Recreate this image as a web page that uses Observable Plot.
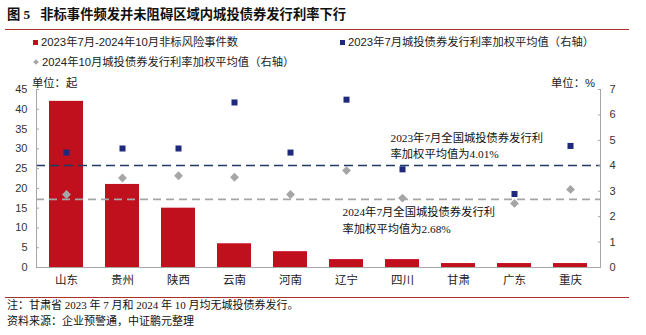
<!DOCTYPE html>
<html><head><meta charset="utf-8">
<script src="https://cdn.jsdelivr.net/npm/d3@7"></script>
<script src="https://cdn.jsdelivr.net/npm/@observablehq/plot@0.6"></script>
<style>
body{margin:0;background:#fff;}
#wrap{position:relative;width:646px;height:335px;overflow:hidden;font-family:"Liberation Sans","Noto Sans CJK SC",sans-serif;color:#222;}
.abs{position:absolute;white-space:nowrap;}
#title{left:7px;top:6px;font-size:13.3px;line-height:18px;font-weight:bold;font-family:"Liberation Serif","Noto Sans CJK SC",serif;color:#111;}
.redline{position:absolute;left:5px;width:624px;height:0;border-top:1.2px solid #a8322d;}
.leg{font-size:11.3px;line-height:14px;color:#222;}
.mk{display:inline-block;width:5px;height:5px;margin-right:3px;vertical-align:1px;}
.dia{display:inline-block;width:4px;height:4px;background:#a6a6a6;transform:rotate(45deg);margin:0 4px 0 1px;vertical-align:2px;}
.unit{font-size:11.3px;line-height:14px;color:#222;}
.foot{font-size:11px;line-height:14px;font-family:"Liberation Serif","Noto Sans CJK SC",serif;color:#111;}
#chart{position:absolute;left:0;top:72px;}
</style></head><body><div id="wrap">
<div id="title" class="abs">图 5&nbsp;&nbsp;&nbsp;非标事件频发并未阻碍区域内城投债券发行利率下行</div>
<div class="redline" style="top:29px"></div>
<div id="chart"></div>
<div class="abs leg" style="left:33px;top:35px"><span class="mk" style="background:#c00f1d"></span>2023年7月-2024年10月非标风险事件数</div>
<div class="abs leg" style="left:340px;top:35px"><span class="mk" style="background:#1f2a7c"></span>2023年7月城投债券发行利率加权平均值（右轴）</div>
<div class="abs leg" style="left:33px;top:55px"><span class="dia"></span>2024年10月城投债券发行利率加权平均值（右轴）</div>
<div class="abs unit" style="left:32px;top:76px">单位：起</div>
<div class="abs unit" style="right:51px;top:76px">单位：%</div>
<div class="redline" style="top:297px"></div>
<div class="abs foot" style="left:7px;top:298px">注：甘肃省 2023 年 7 月和 2024 年 10 月均无城投债券发行。</div>
<div class="abs foot" style="left:7px;top:314px">资料来源：企业预警通，中证鹏元整理</div>
</div>
<script>
const categories = ["山东","贵州","陕西","云南","河南","辽宁","四川","甘肃","广东","重庆"];
const events = [42, 21, 15, 6, 4, 2, 2, 1, 1, 1];
const rate2023 = [4.52, 4.68, 4.68, 6.49, 4.52, 6.60, 3.86, null, 2.89, 4.78];
const rate2024 = [2.87, 3.52, 3.61, 3.55, 2.87, 3.81, 2.73, null, 2.52, 3.07];
const leftTicks = [0, 5, 10, 15, 20, 25, 30, 35, 40, 45];
const rightTicks = [0, 1, 2, 3, 4, 5, 6, 7];
const avg2023 = 4.01;
const avg2024 = 2.68;
const note2023 = "2023年7月全国城投债券发行利\n率加权平均值为4.01%";
const note2024 = "2024年7月全国城投债券发行利\n率加权平均值为2.68%";

const k = 45 / 7; // right axis (%) mapped onto left axis (起)
const rows = categories.map((c, i) => ({c, events: events[i], r23: rate2023[i], r24: rate2024[i]}));
const axisColor = "#a6a6a6";
const serif = "'Liberation Serif','Noto Sans CJK SC',serif";

const chart = Plot.plot({
  width: 646, height: 222,
  marginTop: 17, marginBottom: 27, marginLeft: 36, marginRight: 46,
  style: {fontFamily: "'Liberation Sans','Noto Sans CJK SC',sans-serif", fontSize: "11px", color: "#333", background: "transparent"},
  x: {domain: categories, paddingInner: 0.4, paddingOuter: 0.2, label: null},
  y: {domain: [0, 45], label: null},
  marks: [
    Plot.barY(rows, {x: "c", y: "events", fill: "#c00f1d"}),
    Plot.ruleY([avg2023 * k], {stroke: "#1f3b63", strokeWidth: 1.6, strokeDasharray: "9,5"}),
    Plot.ruleY([avg2024 * k], {stroke: "#a6a6a6", strokeWidth: 1.6, strokeDasharray: "8,5"}),
    Plot.dot(rows.filter(d => d.r24 != null), {x: "c", y: d => d.r24 * k, symbol: "diamond2", r: 4, fill: "#a6a6a6", stroke: "none"}),
    Plot.dot(rows.filter(d => d.r23 != null), {x: "c", y: d => d.r23 * k, symbol: "square", r: 3.4, fill: "#1f2a7c", stroke: "none"}),
    Plot.ruleY([0], {stroke: axisColor}),
    Plot.frame({anchor: "left", stroke: axisColor}),
    Plot.frame({anchor: "right", stroke: axisColor}),
    Plot.axisX({tickSize: 0, tickPadding: 8, fontSize: 11.5, fill: "#222", label: null}),
    Plot.axisY({ticks: leftTicks, tickSize: 3, dx: 3, tickFormat: () => "", stroke: axisColor, label: null}),
    Plot.axisY({ticks: leftTicks, tickSize: 0, tickPadding: 9, label: null}),
    Plot.axisY({anchor: "right", ticks: rightTicks.map(v => v * k), tickSize: 3, dx: -3, tickFormat: () => "", stroke: axisColor, label: null}),
    Plot.axisY({anchor: "right", ticks: rightTicks.map(v => v * k), tickFormat: d => String(Math.round(d / k)), tickSize: 0, tickPadding: 9, label: null}),
    Plot.text([note2023], {frameAnchor: "left", y: () => avg2023 * k, text: d => d, textAnchor: "start", lineAnchor: "middle", lineHeight: 1.42, dx: 354, dy: -20.5, fontSize: 11.3, fontFamily: serif, fill: "#111"}),
    Plot.text([note2024], {frameAnchor: "left", y: () => avg2024 * k, text: d => d, textAnchor: "start", lineAnchor: "middle", lineHeight: 1.42, dx: 306, dy: 20, fontSize: 11.3, fontFamily: serif, fill: "#111"})
  ]
});
document.getElementById("chart").appendChild(chart);
</script>
</body></html>
